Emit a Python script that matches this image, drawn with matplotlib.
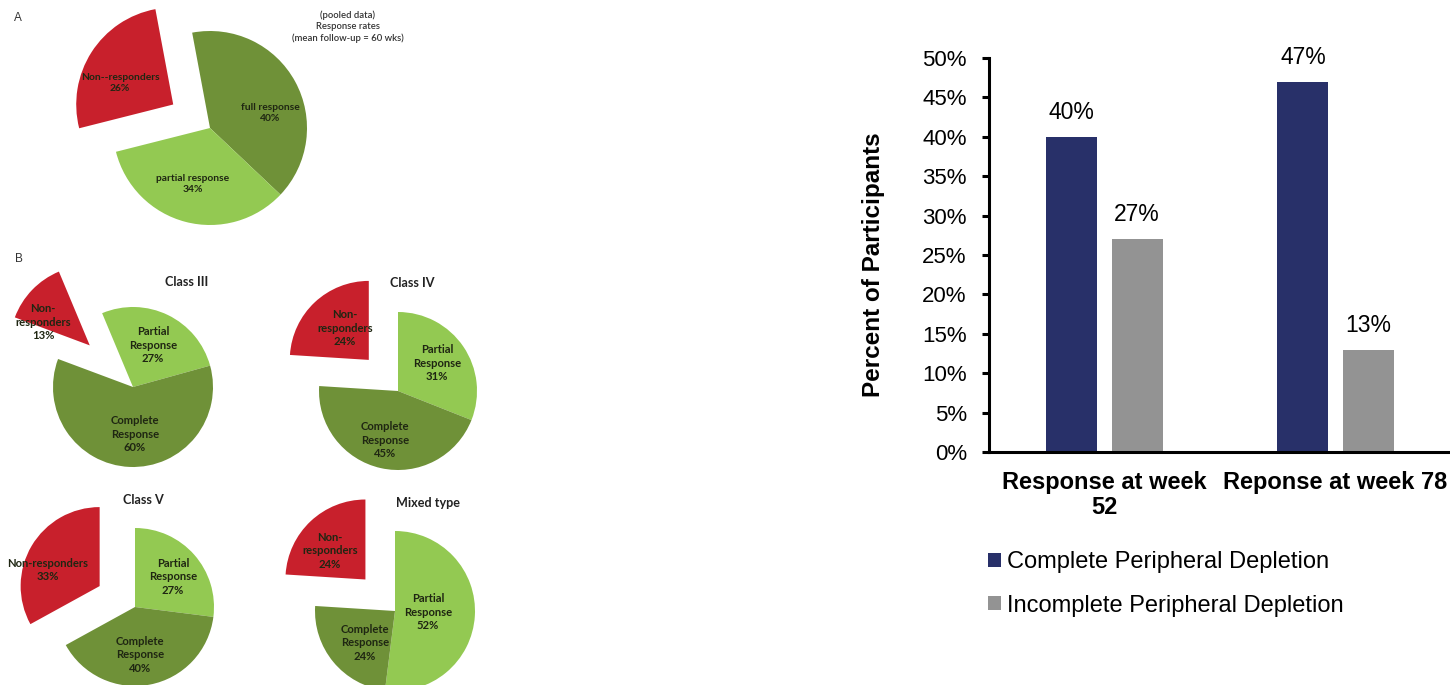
import numpy as np
import matplotlib
matplotlib.use("Agg")
import matplotlib.pyplot as plt
from matplotlib.patches import Patch
from matplotlib.ticker import PercentFormatter

W, H = 1450, 685

# ---- pie data (percent of patients) ----
pooled_labels = ["full response", "partial response", "Non--responders"]
pooled_values = [40, 34, 26]
pie_titles = ["Class III", "Class IV", "Class V", "Mixed type"]
class_labels = [
    ["Partial\nResponse", "Complete\nResponse", "Non-\nresponders"],
    ["Partial\nResponse", "Complete\nResponse", "Non-\nresponders"],
    ["Partial\nResponse", "Complete\nResponse", "Non-responders"],
    ["Partial\nResponse", "Complete\nResponse", "Non-\nresponders"],
]
class_values = [
    [27, 60, 13],
    [31, 45, 24],
    [27, 40, 33],
    [52, 24, 24],
]

# ---- bar data ----
bar_categories = ["Response at week\n52", "Reponse at week 78"]
complete_depletion = [40, 47]
incomplete_depletion = [27, 13]
series_names = ["Complete Peripheral Depletion", "Incomplete Peripheral Depletion"]

RED, DARK, LIGHT = "#c8202c", "#6f9138", "#93c952"
NAVY, GREY = "#283069", "#939393"
TXT = "#1f2612"

fig = plt.figure(figsize=(W / 100, H / 100), dpi=100)

# left half: pies drawn in a pixel-coordinate axes (y measured from top)
pax = fig.add_axes([0, 0, 1, 1])

def draw_pie(values, labels, colors, center, radius, start, explode, label_xy, fs):
    cx, cy = center
    # pie's explode is an absolute offset, so scale the fraction by the radius
    pax.pie(values, colors=colors, startangle=start, counterclock=False,
            explode=[0, 0, explode * radius], center=(cx, H - cy), radius=radius,
            wedgeprops=dict(linewidth=0), frame=True)
    for lab, v, (lx, ly) in zip(labels, values, label_xy):
        pax.text(lx, H - ly, f"{lab}\n{v}%", ha="center", va="center",
                 fontsize=fs, fontweight="bold", family="Lato", color=TXT,
                 linespacing=1.25)

# panel A
draw_pie(pooled_values, pooled_labels, [DARK, LIGHT, RED], (210, 128), 97, 100.6, 0.45,
         [(270, 113), (193, 184), (120, 83)], 7.4)
pax.text(348, H - 27, "(pooled data)\nResponse rates\n(mean follow-up = 60 wks)",
         ha="center", va="center", fontsize=6.8, family="Lato", color="#333333",
         fontweight="semibold", linespacing=1.3)

# panel B
layout = [
    dict(center=(133, 387), r=80, start=112.7, ex=0.75, title=(187, 282),
         lab=[(153, 345), (135, 434), (43, 322)]),
    dict(center=(398, 391), r=79, start=90, ex=0.54, title=(412, 283),
         lab=[(437, 363), (385, 440), (345, 328)]),
    dict(center=(135, 607), r=79, start=90, ex=0.52, title=(143, 500),
         lab=[(173, 577), (140, 655), (48, 570)]),
    dict(center=(395, 611), r=80, start=90, ex=0.54, title=(428, 503),
         lab=[(428, 612), (365, 643), (330, 551)]),
]
for title, labs, vals, lo in zip(pie_titles, class_labels, class_values, layout):
    draw_pie(vals, labs, [LIGHT, DARK, RED], lo["center"], lo["r"], lo["start"], lo["ex"],
             lo["lab"], 8.1)
    tx, ty = lo["title"]
    pax.text(tx, H - ty, title, ha="center", va="center", fontsize=9.1,
             fontweight="bold", family="Lato", color="#222222")

pax.text(18, H - 18, "A", ha="center", va="center", fontsize=8.5, family="Liberation Sans",
         color="#333333")
pax.text(19, H - 259, "B", ha="center", va="center", fontsize=8.5, family="Liberation Sans",
         color="#333333")
pax.set_xlim(0, W)
pax.set_ylim(0, H)
pax.set_aspect("auto")
pax.axis("off")

# right: grouped bar chart
plt.rcParams["font.family"] = "Liberation Sans"
bax = fig.add_axes([989 / W, 1 - 452 / H, 462 / W, 394 / H])
x = np.arange(len(bar_categories))
bw, off = 0.221, 0.141
b1 = bax.bar(x - off, complete_depletion, bw, color=NAVY)
b2 = bax.bar(x + off, incomplete_depletion, bw, color=GREY)
for bars, vals in ((b1, complete_depletion), (b2, incomplete_depletion)):
    for r, v in zip(bars, vals):
        bax.annotate(f"{v}%", (r.get_x() + r.get_width() / 2, v), xytext=(0, 17.5),
                     textcoords="offset points", ha="center", va="center", fontsize=16.5)

bax.set_xlim(-0.5, 1.5)
bax.set_ylim(0, 50)
bax.set_yticks(np.arange(0, 51, 5))
bax.yaxis.set_major_formatter(PercentFormatter(decimals=0))
bax.set_xticks(x)
bax.set_xticklabels(bar_categories, fontsize=17, fontweight="bold", linespacing=1.1)
bax.tick_params(axis="x", length=0, pad=14)
bax.tick_params(axis="y", length=5, width=2.2, labelsize=16, pad=11)
for s in ("top", "right"):
    bax.spines[s].set_visible(False)
for s in ("left", "bottom"):
    bax.spines[s].set_linewidth(2.2)

fig.text(873 / W, 1 - 265 / H, "Percent of Participants", rotation=90, ha="center",
         va="center", fontsize=17.5, fontweight="bold")

handles = [Patch(facecolor=NAVY), Patch(facecolor=GREY)]
fig.legend(handles, series_names, loc="upper left", bbox_to_anchor=(988 / W, 1 - 551 / H),
           frameon=False, fontsize=17, handlelength=0.55, handleheight=0.55,
           handletextpad=0.25, labelspacing=0.92, borderpad=0, borderaxespad=0)

fig.savefig("out.png", dpi=100)
